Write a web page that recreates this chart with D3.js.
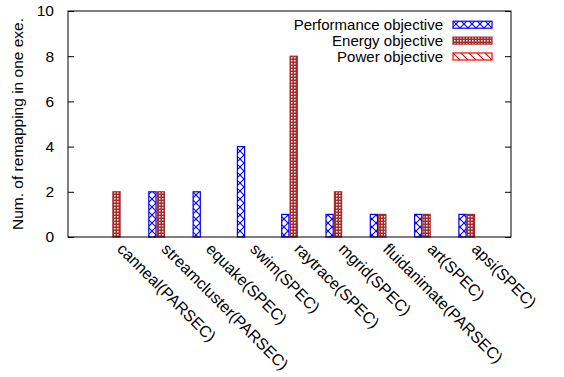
<!DOCTYPE html>
<html>
<head>
<meta charset="utf-8">
<script src="https://cdn.jsdelivr.net/npm/d3@7"></script>
<style>
  body { margin: 0; background: #fff; }
  text { font-family: "Liberation Sans", Arial, Helvetica, sans-serif; }
</style>
</head>
<body>
<div id="chart"></div>
<script>
const categories = ["canneal(PARSEC)", "streamcluster(PARSEC)", "equake(SPEC)", "swim(SPEC)",
  "raytrace(SPEC)", "mgrid(SPEC)", "fluidanimate(PARSEC)", "art(SPEC)", "apsi(SPEC)"];
const perfValues   = [0, 2, 2, 4, 1, 1, 1, 1, 1];
const energyValues = [2, 2, 0, 0, 8, 2, 1, 1, 1];
const powerValues  = [0, 0, 0, 0, 0, 0, 0, 0, 0];
const seriesNames  = ["Performance objective", "Energy objective", "Power objective"];
const yTicks = [0, 2, 4, 6, 8, 10];

const W = 564, H = 377;
const margin = { top: 11, right: 53, bottom: 140, left: 68 };
const width = W - margin.left - margin.right;
const height = H - margin.top - margin.bottom;

const svg = d3.select("#chart").append("svg")
  .attr("width", W).attr("height", H);

// patterns
const defs = svg.append("defs");
const pPerf = defs.append("pattern").attr("id", "pat-perf")
  .attr("patternUnits", "userSpaceOnUse").attr("width", 8).attr("height", 8);
pPerf.append("rect").attr("width", 8).attr("height", 8).attr("fill", "#fff");
pPerf.append("path").attr("d", "M0,0L8,8M8,0L0,8").attr("stroke", "#0000ff").attr("stroke-width", 1.1);

const pEnergy = defs.append("pattern").attr("id", "pat-energy")
  .attr("patternUnits", "userSpaceOnUse").attr("width", 3).attr("height", 3);
pEnergy.append("rect").attr("width", 3).attr("height", 3).attr("fill", "#a52a2a");
pEnergy.append("rect").attr("x", 1).attr("y", 1).attr("width", 1.5).attr("height", 1.5).attr("fill", "#fff");

const pPower = defs.append("pattern").attr("id", "pat-power")
  .attr("patternUnits", "userSpaceOnUse").attr("width", 8).attr("height", 8);
pPower.append("rect").attr("width", 8).attr("height", 8).attr("fill", "#fff");
pPower.append("path").attr("d", "M-2,6L2,10M0,0L8,8M6,-2L10,2").attr("stroke", "#ff0000").attr("stroke-width", 1.2);

const fills = ["url(#pat-perf)", "url(#pat-energy)", "url(#pat-power)"];
const strokes = ["#0000ff", "#a52a2a", "#ff0000"];

const g = svg.append("g").attr("transform", `translate(${margin.left},${margin.top})`);

const x = d3.scaleLinear().domain([0, categories.length + 1]).range([0, width]);
const y = d3.scaleLinear().domain([0, 10]).range([height, 0]);
const barW = 8.4;

const series = [perfValues, energyValues, powerValues];
series.forEach((vals, s) => {
  g.selectAll(".bar-" + s)
    .data(vals.map((v, i) => ({ v, i })).filter(d => d.v > 0))
    .join("rect")
    .attr("x", d => x(d.i + 1) + (s - 1) * barW + 0.6)
    .attr("y", d => y(d.v))
    .attr("width", barW - 1.2)
    .attr("height", d => y(0) - y(d.v))
    .attr("fill", fills[s])
    .attr("stroke", strokes[s])
    .attr("stroke-width", 1.2);
});

// border
g.append("rect").attr("width", width).attr("height", height)
  .attr("fill", "none").attr("stroke", "#000").attr("stroke-width", 1);

// y ticks (left and mirrored right, inward)
g.append("g")
  .call(d3.axisLeft(y).tickValues(yTicks).tickSize(-6).tickPadding(14))
  .call(a => a.select(".domain").remove())
  .selectAll("text").attr("font-size", "15.5px").attr("fill", "#000");
g.append("g").attr("transform", `translate(${width},0)`)
  .call(d3.axisRight(y).tickValues(yTicks).tickSize(-6).tickFormat(""))
  .call(a => a.select(".domain").remove());

// x labels
g.selectAll(".xlabel")
  .data(categories)
  .join("text")
  .attr("class", "xlabel")
  .attr("transform", (d, i) => `translate(${x(i + 1) + 4},${height + 13}) rotate(45)`)
  .attr("text-anchor", "start")
  .attr("font-size", "16px")
  .text(d => d);

// y label
svg.append("text")
  .attr("transform", `translate(23,${margin.top + height / 2}) rotate(-90)`)
  .attr("text-anchor", "middle")
  .attr("font-size", "15.5px")
  .text("Num. of remapping in one exe.");

// legend
const legend = svg.append("g");
seriesNames.forEach((name, s) => {
  const cy = 24.7 + s * 15.9;
  legend.append("text")
    .attr("x", 443).attr("y", cy + 5.5)
    .attr("text-anchor", "end")
    .attr("font-size", "15px")
    .text(name);
  legend.append("rect")
    .attr("x", 453).attr("y", cy - 3.5)
    .attr("width", 39).attr("height", 7)
    .attr("fill", fills[s]).attr("stroke", strokes[s]).attr("stroke-width", 1.2);
});
</script>
</body>
</html>
